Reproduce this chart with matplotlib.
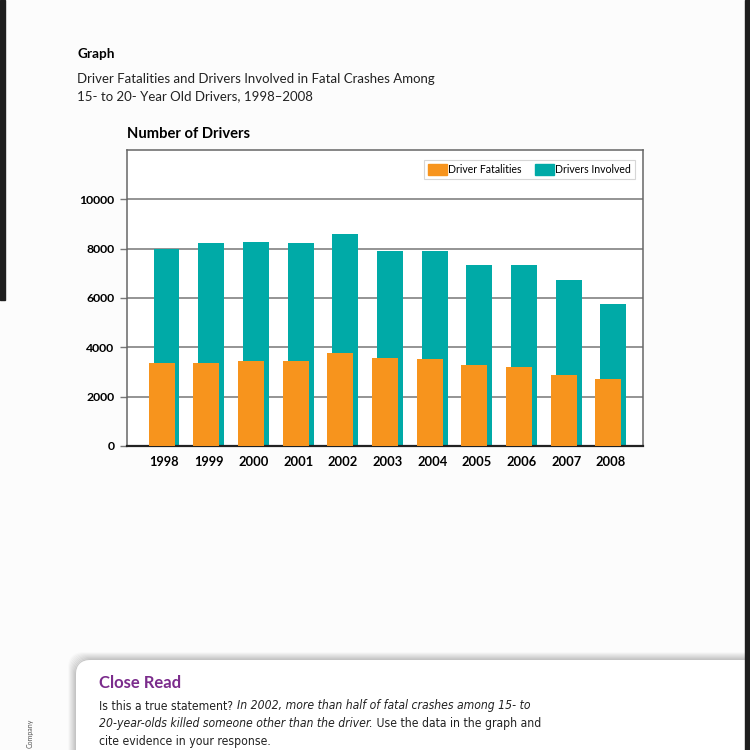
import matplotlib
matplotlib.use('Agg')
from matplotlib import pyplot
from matplotlib.patches import Patch, FancyBboxPatch, Rectangle

years = ['1998', '1999', '2000', '2001', '2002', '2003', '2004', '2005', '2006', '2007', '2008']
driver_fatalities = [3365, 3365, 3430, 3460, 3770, 3570, 3530, 3290, 3200, 2890, 2700]
drivers_involved = [7990, 8230, 8270, 8230, 8580, 7920, 7920, 7340, 7340, 6720, 5770]
y_ticks = [0, 2000, 4000, 6000, 8000, 10000]

orange = '#f7941d'
teal = '#00aaa7'
head_font = ['Lato', 'DejaVu Sans']
body_font = ['DejaVu Sans']

W = 750.0


def fx(x):
	return x / W


def fy(y):
	return 1 - y / W


def main():
	fig = pyplot.figure(figsize=(7.5, 7.5), dpi=100)
	fig.patch.set_facecolor('#fcfcfc')

	# dark edges of the screenshot
	fig.add_artist(Rectangle((0, fy(300)), fx(5), 1 - fy(300), transform=fig.transFigure, color='#1e1e1e', zorder=5))
	fig.add_artist(Rectangle((fx(745), 0), fx(5), 1, transform=fig.transFigure, color='#1e1e1e', zorder=5))

	# headings
	fig.text(fx(77), fy(54), 'Graph', family=head_font, weight='bold', fontsize=9.8, va='center')
	fig.text(fx(77), fy(79), 'Driver Fatalities and Drivers Involved in Fatal Crashes Among',
		family=head_font, fontsize=9.5, va='center', color='#222222')
	fig.text(fx(77), fy(96), '15- to 20- Year Old Drivers, 1998\u20132008',
		family=head_font, fontsize=9.5, va='center', color='#222222')
	fig.text(fx(127), fy(134), 'Number of Drivers', family=head_font, weight='bold', fontsize=10.6, va='center')

	ax = fig.add_axes([fx(127), fy(446), fx(643) - fx(127), fy(150) - fy(446)])
	ax.set_facecolor('white')
	pos = list(range(len(years)))
	ax.bar([p + 0.055 for p in pos], drivers_involved, width=0.58, color=teal, zorder=2, label='Drivers Involved')
	ax.bar([p - 0.055 for p in pos], driver_fatalities, width=0.58, color=orange, zorder=3, label='Driver Fatalities')

	ax.set_xlim(-0.83, 10.72)
	ax.set_ylim(0, 12000)
	ax.set_yticks(y_ticks)
	ax.set_yticklabels([str(v) for v in y_ticks], family=head_font, weight='bold', fontsize=8.8)
	ax.set_xticks(pos)
	ax.set_xticklabels(years, family=head_font, weight='bold', fontsize=9.3)
	ax.tick_params(axis='x', length=0, pad=7)
	ax.tick_params(axis='y', length=5, width=1, color='#777777', pad=4)
	ax.yaxis.grid(True, color='#777777', linewidth=1.1, zorder=0)
	ax.set_axisbelow(True)
	for s in ['left', 'top', 'right']:
		ax.spines[s].set_color('#666666')
		ax.spines[s].set_linewidth(1.1)
	ax.spines['bottom'].set_color('#222222')
	ax.spines['bottom'].set_linewidth(1.6)

	handles = [Patch(color=orange), Patch(color=teal)]
	leg = ax.legend(handles, ['Driver Fatalities', 'Drivers Involved'], ncol=2, loc='upper right',
		bbox_to_anchor=(0.984, 0.965), frameon=True, fancybox=False, prop={'family': head_font, 'size': 7.6},
		handlelength=1.8, handleheight=1.2, handletextpad=0.1, columnspacing=1.3, borderpad=0.35, borderaxespad=0)
	leg.get_frame().set_edgecolor('#cccccc')
	leg.get_frame().set_linewidth(0.8)

	# Close Read box with soft shadow
	for i in range(8):
		fig.add_artist(FancyBboxPatch((fx(76 - i), fy(900)), fx(720 + i), fy(660 - i) - fy(900),
			boxstyle='round,pad=0,rounding_size=0.02', transform=fig.transFigure,
			facecolor='none', edgecolor='#000000', alpha=0.015 * (8 - i), linewidth=1.5, zorder=1))
	fig.add_artist(FancyBboxPatch((fx(76), fy(900)), fx(700), fy(660) - fy(900),
		boxstyle='round,pad=0,rounding_size=0.02', transform=fig.transFigure,
		facecolor='white', edgecolor='none', zorder=2))

	fig.text(fx(99), fy(683), 'Close Read', family=head_font, weight='bold', fontsize=12,
		color='#7b2c8c', va='center', zorder=3)

	lines = [
		[('Is this a true statement? ', 'normal'), ('In 2002, more than half of fatal crashes among 15- to', 'italic')],
		[('20-year-olds killed someone other than the driver.', 'italic'), (' Use the data in the graph and', 'normal')],
		[('cite evidence in your response.', 'normal')],
	]
	renderer = fig.canvas.get_renderer()
	y = 706
	for line in lines:
		x = fx(99)
		for txt, style in line:
			t = fig.text(x, fy(y), txt, family=body_font, style=style, fontsize=8.7, fontstretch='condensed',
				color='#222222', va='center', zorder=3)
			bb = t.get_window_extent(renderer=renderer)
			x = x + bb.width / fig.bbox.width
		y += 18

	fig.text(fx(30), fy(748), 'Company', family=head_font, fontsize=5, rotation=90,
		color='#555555', va='bottom', ha='center', zorder=3)

	fig.savefig('out.png', dpi=100, facecolor=fig.get_facecolor())


if __name__ == '__main__':
	main()
